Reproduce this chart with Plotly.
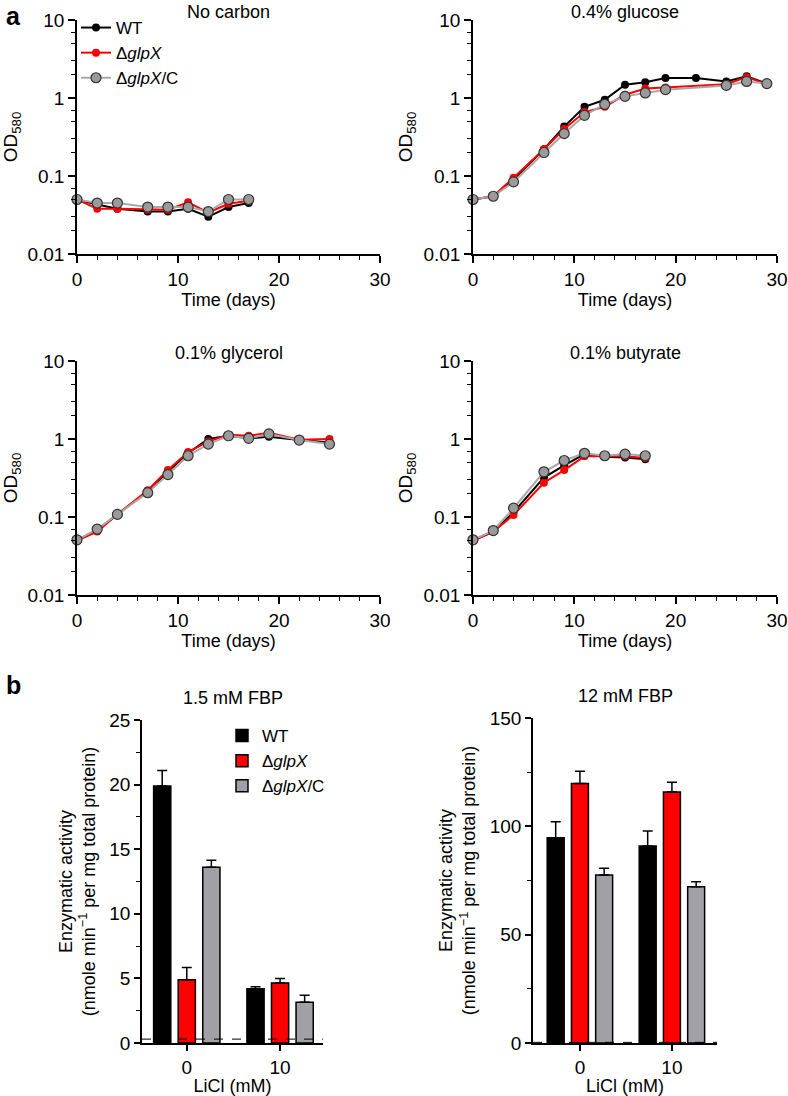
import plotly.graph_objects as go

W, H = 788, 1096

# -----------------------------
# Growth curves (OD580)
# -----------------------------
DAYS_NOC = [0, 2, 4, 7, 9, 11, 13, 15, 17]
NOC_WT = [0.050, 0.043, 0.038, 0.035, 0.035, 0.038, 0.030, 0.040, 0.045]
NOC_KO = [0.050, 0.038, 0.038, 0.037, 0.037, 0.046, 0.034, 0.044, 0.048]
NOC_C = [0.050, 0.045, 0.045, 0.040, 0.040, 0.040, 0.035, 0.050, 0.050]

DAYS_GLU_WT = [0, 2, 4, 7, 9, 11, 13, 15, 17, 19, 22, 25, 27, 29]
GLU_WT = [0.050, 0.055, 0.090, 0.22, 0.43, 0.77, 0.95, 1.48, 1.59, 1.80, 1.80, 1.63, 1.90, 1.53]
DAYS_GLU = [0, 2, 4, 7, 9, 11, 13, 15, 17, 19, 25, 27, 29]
GLU_KO = [0.050, 0.055, 0.095, 0.22, 0.40, 0.66, 0.77, 1.10, 1.32, 1.36, 1.50, 1.85, 1.50]
GLU_C = [0.050, 0.055, 0.084, 0.20, 0.35, 0.60, 0.83, 1.05, 1.16, 1.28, 1.45, 1.63, 1.53]

DAYS_GLY = [0, 2, 4, 7, 9, 11, 13, 15, 17, 19, 22, 25]
GLY_WT = [0.050, 0.068, 0.108, 0.215, 0.38, 0.66, 1.00, 1.10, 1.02, 1.07, 0.97, 0.90]
GLY_KO = [0.050, 0.065, 0.108, 0.22, 0.40, 0.68, 0.93, 1.13, 1.10, 1.20, 0.98, 1.00]
GLY_C = [0.051, 0.070, 0.108, 0.205, 0.35, 0.61, 0.86, 1.10, 1.02, 1.16, 0.97, 0.86]

DAYS_BUT = [0, 2, 4, 7, 9, 11, 13, 15, 17]
BUT_WT = [0.050, 0.065, 0.115, 0.32, 0.46, 0.64, 0.59, 0.58, 0.55]
BUT_KO = [0.050, 0.065, 0.106, 0.275, 0.40, 0.60, 0.60, 0.60, 0.57]
BUT_C = [0.051, 0.067, 0.130, 0.38, 0.53, 0.655, 0.61, 0.64, 0.61]

# -----------------------------
# Enzymatic activity (bars)
# -----------------------------
LICL = ["0", "10"]
FBP15_WT = [19.9, 4.2]
FBP15_WT_ERR = [1.2, 0.15]
FBP15_KO = [4.9, 4.65]
FBP15_KO_ERR = [0.95, 0.35]
FBP15_C = [13.6, 3.15]
FBP15_C_ERR = [0.55, 0.55]

FBP12_WT = [94.7, 90.9]
FBP12_WT_ERR = [7.4, 6.9]
FBP12_KO = [119.8, 115.8]
FBP12_KO_ERR = [5.6, 4.6]
FBP12_C = [77.5, 72.1]
FBP12_C_ERR = [3.1, 2.3]

DETECTION_LIMIT = 0.3

STRAINS = ["WT", "Δ<i>glpX</i>", "Δ<i>glpX</i>/C"]
LINE_COLORS = ["#000000", "#ff0000", "#a8a8a8"]
MARKER_COLORS = ["#000000", "#ff0000", "#9a9a9a"]
BAR_COLORS = ["#000000", "#ff0000", "#a0a0a6"]

FONT = "Liberation Sans, Arial, sans-serif"
FS = 18
TFS = 19


def px_x(a, b):
    return [a / W, b / W]


def px_y(top, bottom):
    return [1 - bottom / H, 1 - top / H]


fig = go.Figure()

# -----------------------------
# Line panels
# -----------------------------
panels = [
    ("No carbon", px_x(77, 380), px_y(20, 254),
     [(DAYS_NOC, NOC_WT), (DAYS_NOC, NOC_KO), (DAYS_NOC, NOC_C)]),
    ("0.4% glucose", px_x(473, 777), px_y(20, 254),
     [(DAYS_GLU_WT, GLU_WT), (DAYS_GLU, GLU_KO), (DAYS_GLU, GLU_C)]),
    ("0.1% glycerol", px_x(77, 380), px_y(361, 595),
     [(DAYS_GLY, GLY_WT), (DAYS_GLY, GLY_KO), (DAYS_GLY, GLY_C)]),
    ("0.1% butyrate", px_x(473, 777), px_y(361, 595),
     [(DAYS_BUT, BUT_WT), (DAYS_BUT, BUT_KO), (DAYS_BUT, BUT_C)]),
]

minor_log = [m * 10 ** e for e in (-2, -1, 0) for m in (2, 3, 5, 7)]
annotations = []

for p, (title, xd, yd, series) in enumerate(panels):
    n = p + 1
    xa = "x" if n == 1 else f"x{n}"
    ya = "y" if n == 1 else f"y{n}"
    for s, (xs, ys) in enumerate(series):
        fig.add_trace(go.Scatter(
            x=xs, y=ys, xaxis=xa, yaxis=ya,
            mode="lines+markers",
            name=STRAINS[s],
            showlegend=(n == 1),
            legend="legend",
            cliponaxis=False,
            line=dict(color=LINE_COLORS[s], width=2),
            marker=dict(size=10 if s == 2 else 8, color=MARKER_COLORS[s],
                        line=dict(color="#333333" if s == 2 else MARKER_COLORS[s],
                                  width=1.2 if s == 2 else 0)),
        ))
    axis_common = dict(showline=True, linecolor="black", linewidth=1.5,
                       ticks="outside", tickcolor="black", tickwidth=1.5,
                       showgrid=False, zeroline=False, automargin=False,
                       tickfont=dict(size=TFS, color="black"))
    fig.layout[f"xaxis{'' if n == 1 else n}"] = dict(
        domain=xd, anchor=ya, range=[0, 30], tickvals=[0, 10, 20, 30], ticklen=7,
        minor=dict(ticks="outside", dtick=2, ticklen=4, tickcolor="black", tickwidth=1.2),
        title=dict(text="Time (days)", font=dict(size=FS), standoff=2),
        **axis_common)
    fig.layout[f"yaxis{'' if n == 1 else n}"] = dict(
        domain=yd, anchor=xa, type="log", range=[-2, 1],
        tickvals=[0.01, 0.1, 1, 10], ticktext=["0.01", "0.1", "1", "10"], ticklen=7,
        minor=dict(ticks="outside", tickvals=minor_log, ticklen=4, tickcolor="black", tickwidth=1.2),
        title=dict(text="OD<sub>580</sub>", font=dict(size=FS + 1), standoff=6),
        **axis_common)
    annotations.append(dict(text=title, xref="paper", yref="paper",
                            x=(xd[0] + xd[1]) / 2, y=yd[1] + 8 / H,
                            xanchor="center", yanchor="middle", showarrow=False,
                            font=dict(size=FS)))

# -----------------------------
# Bar panels
# -----------------------------
bar_panels = [
    ("1.5 mM FBP", px_x(142, 323), px_y(720, 1043), [0, 25], 5, 2.5,
     [(FBP15_WT, FBP15_WT_ERR), (FBP15_KO, FBP15_KO_ERR), (FBP15_C, FBP15_C_ERR)], [-0.48, 1.46]),
    ("12 mM FBP", px_x(533, 717), px_y(718, 1043), [0, 150], 50, 25,
     [(FBP12_WT, FBP12_WT_ERR), (FBP12_KO, FBP12_KO_ERR), (FBP12_C, FBP12_C_ERR)], [-0.51, 1.49]),
]

shapes = []
for b, (title, xd, yd, yr, dt, mdt, series, xr) in enumerate(bar_panels):
    n = 5 + b
    xa, ya = f"x{n}", f"y{n}"
    for s, (vals, errs) in enumerate(series):
        fig.add_trace(go.Bar(
            x=LICL, y=vals, xaxis=xa, yaxis=ya,
            name=STRAINS[s],
            showlegend=(b == 0),
            legend="legend2",
            marker=dict(color=BAR_COLORS[s], line=dict(color="black", width=1.5)),
            error_y=dict(type="data", array=errs, arrayminus=[0] * len(errs),
                         symmetric=False, color="black", thickness=1.5, width=5),
        ))
    axis_common = dict(showline=True, linecolor="black", linewidth=1.5,
                       ticks="outside", tickcolor="black", tickwidth=1.5, ticklen=6,
                       showgrid=False, zeroline=False, automargin=False,
                       tickfont=dict(size=TFS, color="black"))
    fig.layout[f"xaxis{n}"] = dict(
        domain=xd, anchor=ya, type="category", range=xr,
        title=dict(text="LiCl (mM)", font=dict(size=FS), standoff=2),
        **axis_common)
    fig.layout[f"yaxis{n}"] = dict(
        domain=yd, anchor=xa, range=yr, dtick=dt,
        minor=dict(ticks="outside", dtick=mdt, ticklen=4, tickcolor="black", tickwidth=1.2),
        title=dict(text="Enzymatic activity<br>(nmole min<sup>−1</sup> per mg total protein)",
                   font=dict(size=FS), standoff=9),
        **axis_common)
    annotations.append(dict(text=title, xref="paper", yref="paper",
                            x=(xd[0] + xd[1]) / 2, y=yd[1] + 22 / H,
                            xanchor="center", yanchor="middle", showarrow=False,
                            font=dict(size=FS)))
    shapes.append(dict(type="line", xref=f"{xa} domain", yref=ya,
                       x0=0, x1=1, y0=DETECTION_LIMIT, y1=DETECTION_LIMIT,
                       line=dict(color="black", width=1, dash="dash")))

annotations.append(dict(text="<b>a</b>", xref="paper", yref="paper", x=4 / W, y=1 - 16 / H,
                        xanchor="left", yanchor="middle", showarrow=False,
                        font=dict(size=25, family="Liberation Sans, Arial")))
annotations.append(dict(text="<b>b</b>", xref="paper", yref="paper", x=4 / W, y=1 - 685 / H,
                        xanchor="left", yanchor="middle", showarrow=False,
                        font=dict(size=25, family="Liberation Sans, Arial")))

fig.update_layout(
    width=W, height=H,
    margin=dict(l=0, r=0, t=0, b=0),
    paper_bgcolor="white", plot_bgcolor="white",
    font=dict(family=FONT, size=FS, color="black"),
    barmode="group", bargap=0.21, bargroupgap=0.3,
    legend=dict(x=76 / W, y=1 - 10 / H, xanchor="left", yanchor="top",
                bgcolor="rgba(0,0,0,0)", font=dict(size=17), tracegroupgap=0,
                itemwidth=30),
    legend2=dict(x=222 / W, y=1 - 718 / H, xanchor="left", yanchor="top",
                 bgcolor="rgba(0,0,0,0)", font=dict(size=17), tracegroupgap=0),
    annotations=annotations,
    shapes=shapes,
)

# drop the page's default body margin so the figure fills the window exactly
fig.write_html("out.html",
               config={"displayModeBar": False},
               post_script="document.body.style.margin='0';document.body.style.overflow='hidden';")
